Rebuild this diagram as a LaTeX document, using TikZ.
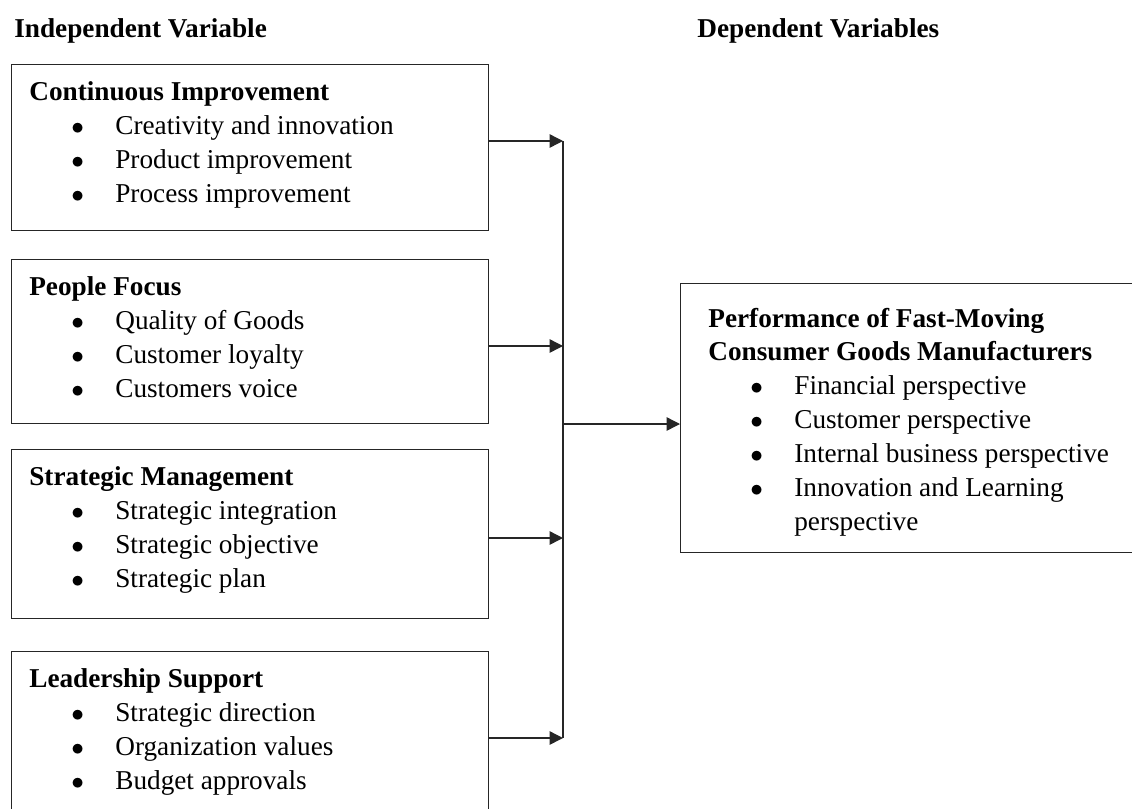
\documentclass[tikz,border=0pt]{standalone}
\usepackage{fontspec}
\setmainfont{Liberation Serif}
\usetikzlibrary{positioning,arrows.meta}

\newcommand{\bul}[1]{\makebox[0.84cm][l]{}\makebox[0.88cm][l]{$\bullet$}#1}

\begin{document}
\begin{tikzpicture}
  [every node/.style={font=\fontsize{15.5}{19.3}\selectfont},
   box/.style={draw=black!85,line width=0.8pt,anchor=north west,minimum width=9.54cm,inner sep=0pt},
   txt/.style={align=left,inner sep=0pt,anchor=north west},
   head/.style={anchor=base west,inner sep=0pt,font=\fontsize{15.5}{19}\selectfont\bfseries},
   link/.style={draw=black!85,line width=0.8pt},
   arr/.style={link,-{Triangle[length=0.27cm,width=0.27cm]}}]

  \clip (0,0) rectangle (22.64,-16.16);
  \useasboundingbox (0,0) rectangle (22.64,-16.16);

  \node[head] (indep) at (0.28,-0.74) {Independent Variable};
  \node[head] (dep) at (13.94,-0.74) {Dependent Variables};

  \node[box,minimum height=3.32cm] (ci) at (0.22,-1.28) {};
  \node[box,minimum height=3.28cm] (pf) at (0.22,-5.18) {};
  \node[box,minimum height=3.38cm] (sm) at (0.22,-8.98) {};
  \node[box,minimum height=4cm] (ls) at (0.22,-13.02) {};
  \node[box,minimum width=10cm,minimum height=5.38cm] (perf) at (13.6,-5.66) {};

  \node[txt,below right=0.35cm and 0.36cm of ci.north west] (ci-t)
    {\textbf{Continuous Improvement}\\
     \bul{Creativity and innovation}\\
     \bul{Product improvement}\\
     \bul{Process improvement}};
  \node[txt,below right=0.35cm and 0.36cm of pf.north west] (pf-t)
    {\textbf{People Focus}\\
     \bul{Quality of Goods}\\
     \bul{Customer loyalty}\\
     \bul{Customers voice}};
  \node[txt,below right=0.35cm and 0.36cm of sm.north west] (sm-t)
    {\textbf{Strategic Management}\\
     \bul{Strategic integration}\\
     \bul{Strategic objective}\\
     \bul{Strategic plan}};
  \node[txt,below right=0.35cm and 0.36cm of ls.north west] (ls-t)
    {\textbf{Leadership Support}\\
     \bul{Strategic direction}\\
     \bul{Organization values}\\
     \bul{Budget approvals}};
  \node[txt,below right=0.49cm and 0.56cm of perf.north west] (perf-t)
    {\textbf{Performance of Fast-Moving}\\
     \textbf{Consumer Goods Manufacturers}\\
     \bul{Financial perspective}\\
     \bul{Customer perspective}\\
     \bul{Internal business perspective}\\
     \bul{Innovation and Learning}\\
     \makebox[1.72cm][l]{}perspective};

  % junction points on the collector line
  \coordinate (j1) at (11.26,-2.82);
  \coordinate (j2) at (11.26,-6.92);
  \coordinate (j3) at (11.26,-10.76);
  \coordinate (j4) at (11.26,-14.76);
  \coordinate (jo) at (11.26,-8.48);

  \foreach \from/\to in {ci/j1,pf/j2,sm/j3,ls/j4}
    \draw[arr] (\from.east |- \to) -- (\to);
  \draw[link] (j1) -- (j4);
  \draw[arr] (jo) -- (perf.west |- jo);
\end{tikzpicture}
\end{document}
